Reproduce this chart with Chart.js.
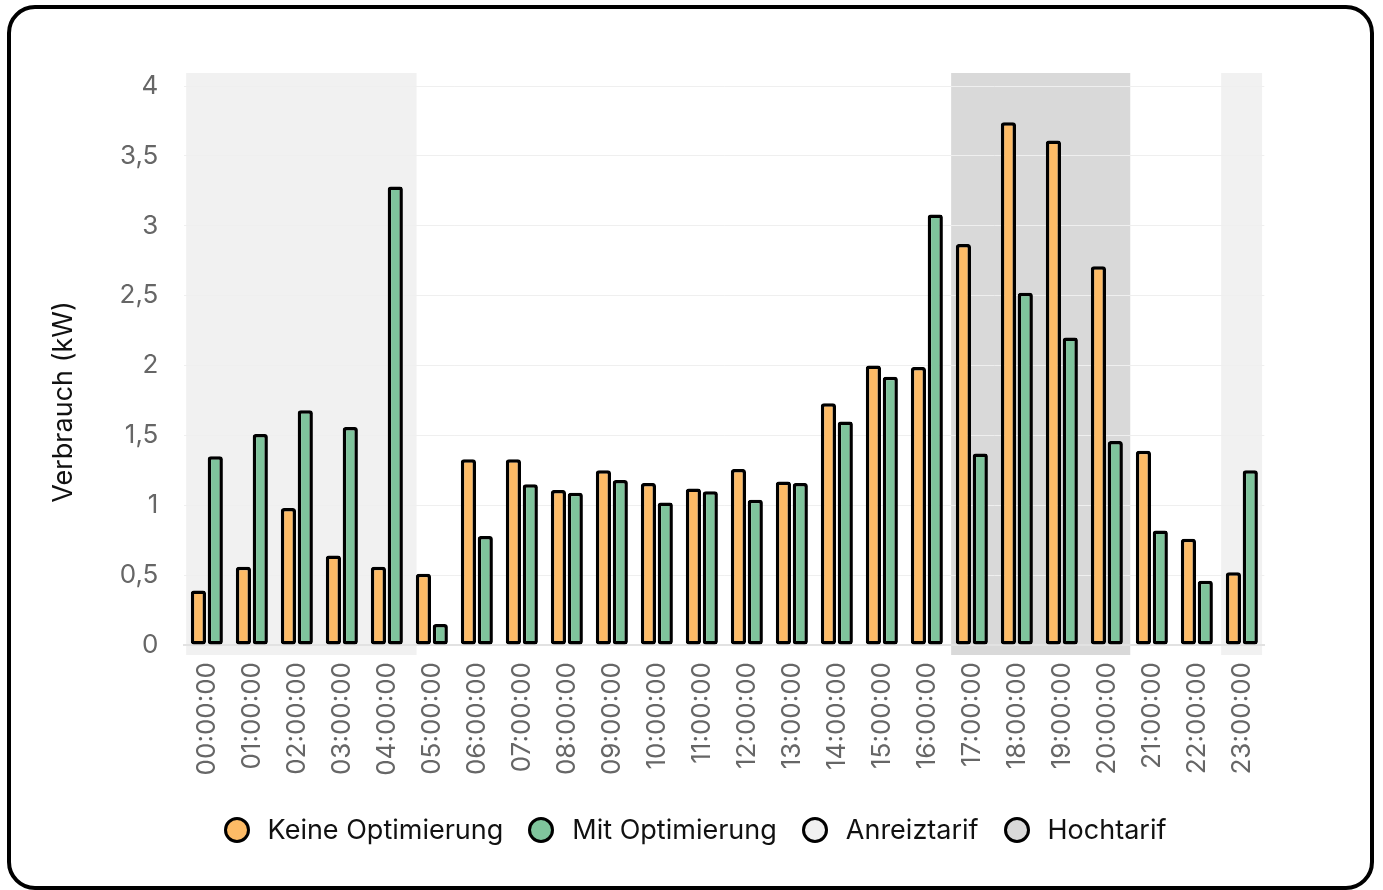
<!DOCTYPE html>
<html lang="de">
<head>
<meta charset="utf-8">
<title>Verbrauch</title>
<script src="https://cdn.jsdelivr.net/npm/chart.js@4.4.1/dist/chart.umd.min.js"></script>
<style>
  html, body { margin: 0; padding: 0; background: #fff; width: 1383px; height: 890px; overflow: hidden; }
  #chart { position: absolute; left: 0; top: 0; }
  .card {
    position: absolute; left: 7px; top: 5px; width: 1367px; height: 885px;
    box-sizing: border-box; border: 4px solid #000; border-radius: 28px; pointer-events: none;
  }
  #ytitle {
    position: absolute; left: 62px; top: 402px; white-space: nowrap;
    transform: translate(-50%, -50%) rotate(-90deg);
    font-family: Inter, sans-serif; font-size: 27px; color: #111;
  }
  #legend {
    position: absolute; left: 0; top: 814px; width: 1390px; height: 32px;
    display: flex; justify-content: center; align-items: center; gap: 25px;
    font-family: Inter, sans-serif; font-size: 27px; color: #111;
  }
  .item { display: flex; align-items: center; white-space: nowrap; line-height: 32px; }
  .dot { width: 20px; height: 20px; border: 3px solid #000; border-radius: 50%; margin-right: 18px; }
</style>
</head>
<body>
<canvas id="chart" width="1383" height="890"></canvas>
<div class="card"></div>
<div id="ytitle">Verbrauch (kW)</div>
<div id="legend"></div>
<script>
// Stunden des Tages
const hours = [
  '00:00:00', '01:00:00', '02:00:00', '03:00:00', '04:00:00', '05:00:00',
  '06:00:00', '07:00:00', '08:00:00', '09:00:00', '10:00:00', '11:00:00',
  '12:00:00', '13:00:00', '14:00:00', '15:00:00', '16:00:00', '17:00:00',
  '18:00:00', '19:00:00', '20:00:00', '21:00:00', '22:00:00', '23:00:00'
];

// Verbrauch in kW
const keineOptimierung = [
  0.39, 0.56, 0.98, 0.64, 0.56, 0.51, 1.33, 1.33, 1.11, 1.25, 1.16, 1.12,
  1.26, 1.17, 1.73, 2.00, 1.99, 2.87, 3.74, 3.61, 2.71, 1.39, 0.76, 0.52
];
const mitOptimierung = [
  1.35, 1.51, 1.68, 1.56, 3.28, 0.15, 0.78, 1.15, 1.09, 1.18, 1.02, 1.10,
  1.04, 1.16, 1.60, 1.92, 3.08, 1.37, 2.52, 2.20, 1.46, 0.82, 0.46, 1.25
];

// Tarifzeiträume als Bereiche auf der Stundenachse (Kategorie-Index)
const anreizBands = [[-0.46, 4.66], [22.54, 23.45]];
const hochBands = [[16.54, 20.52]];

// y-Achse
const yMin = 0, yMax = 4, yStep = 0.5;

const FONT = 'Inter';

// Hinterlegt die Tarifzeiträume hinter Gitter und Balken
const tariffBands = {
  id: 'tariffBands',
  beforeDraw(chart) {
    const { ctx, chartArea, scales: { x } } = chart;
    const top = chartArea.top - 13;
    const bottom = chartArea.bottom + 10;
    chart.data.datasets.forEach(ds => {
      if (!ds.bands) return;
      ctx.save();
      ctx.fillStyle = ds.backgroundColor;
      ds.bands.forEach(([a, b]) => {
        const x0 = x.getPixelForValue(a);
        const x1 = x.getPixelForValue(b);
        ctx.fillRect(x0, top, x1 - x0, bottom - top);
      });
      ctx.restore();
    });
  }
};

const barStyle = {
  borderColor: '#000',
  borderWidth: 3.5,
  borderRadius: 3,
  borderSkipped: false,
  categoryPercentage: 0.75,
  barPercentage: 0.9
};

const chart = new Chart(document.getElementById('chart'), {
  type: 'bar',
  data: {
    labels: hours,
    datasets: [
      { label: 'Keine Optimierung', data: keineOptimierung, backgroundColor: '#FDBB66', ...barStyle },
      { label: 'Mit Optimierung', data: mitOptimierung, backgroundColor: '#7FC49C', ...barStyle },
      { label: 'Anreiztarif', data: [], grouped: false, backgroundColor: '#f1f1f1', bands: anreizBands },
      { label: 'Hochtarif', data: [], grouped: false, backgroundColor: '#d9d9d9', bands: hochBands }
    ]
  },
  options: {
    responsive: false,
    animation: false,
    layout: { padding: { left: 30, right: 118.65, top: 86, bottom: 95 } },
    plugins: {
      legend: { display: false },
      tooltip: { enabled: false }
    },
    scales: {
      x: {
        grid: { display: false },
        border: { display: true, color: '#e2e2e2', width: 2 },
        ticks: {
          autoSkip: false,
          minRotation: 90,
          maxRotation: 90,
          padding: 9,
          color: '#666',
          font: { family: FONT, size: 26 }
        },
        afterFit(scale) { scale.height = 150; }
      },
      y: {
        min: yMin,
        max: yMax,
        grid: { color: '#efefef', drawTicks: false },
        border: { display: false },
        ticks: {
          stepSize: yStep,
          padding: 26,
          color: '#666',
          font: { family: FONT, size: 26 },
          callback: v => String(v).replace('.', ',')
        },
        afterFit(scale) { scale.width = 154.35; }
      }
    }
  },
  plugins: [tariffBands]
});

// Legende aus den Datensätzen
const legend = document.getElementById('legend');
chart.data.datasets.forEach(ds => {
  const item = document.createElement('div');
  item.className = 'item';
  const dot = document.createElement('span');
  dot.className = 'dot';
  dot.style.background = ds.backgroundColor;
  const text = document.createElement('span');
  text.textContent = ds.label;
  item.appendChild(dot);
  item.appendChild(text);
  legend.appendChild(item);
});
</script>
</body>
</html>
